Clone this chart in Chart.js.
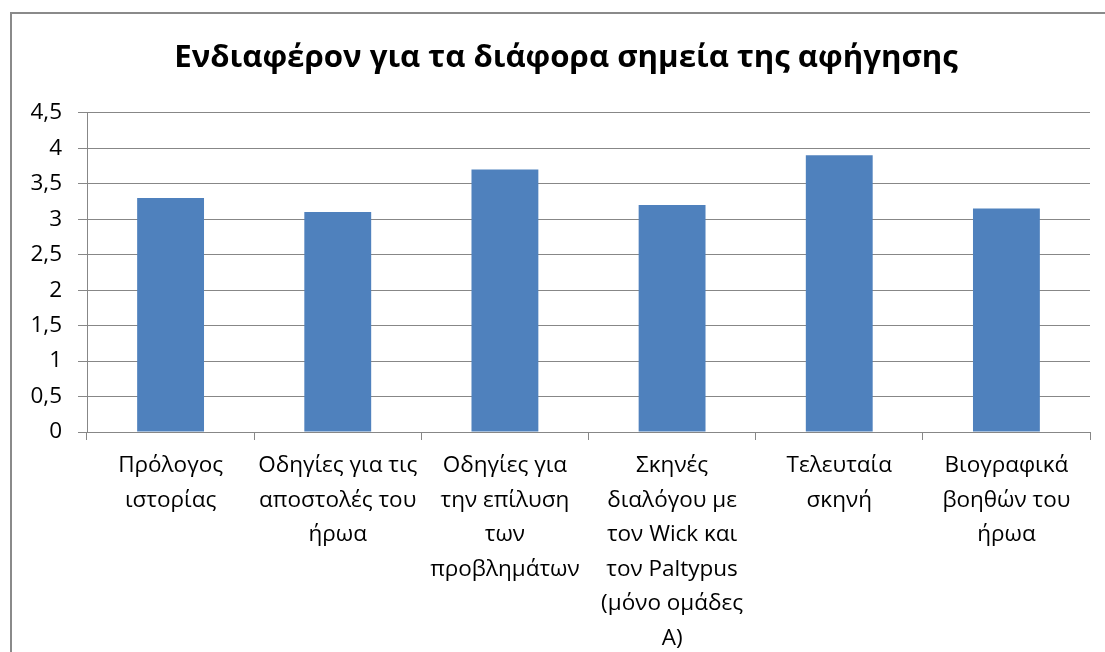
<!DOCTYPE html>
<html>
<head>
<meta charset="utf-8">
<script src="https://cdn.jsdelivr.net/npm/chart.js@4/dist/chart.umd.min.js"></script>
<style>
  html, body { margin: 0; padding: 0; background: #ffffff; overflow: hidden; }
  #frame {
    position: absolute; left: 10px; top: 12px;
    width: 2000px; height: 2000px;
    border: 2px solid #8a8a8a;
  }
  #chart { position: absolute; left: 0; top: 0; }
</style>
</head>
<body>
<div id="frame"></div>
<canvas id="chart" width="1105" height="652"></canvas>
<script>
// Chart title
const chartTitle = 'Ενδιαφέρον για τα διάφορα σημεία της αφήγησης';

// Section of the narration (each entry is split into its display lines)
const categories = [
  ['Πρόλογος', 'ιστορίας'],
  ['Οδηγίες για τις', 'αποστολές του', 'ήρωα'],
  ['Οδηγίες για', 'την επίλυση', 'των', 'προβλημάτων'],
  ['Σκηνές', 'διαλόγου με', 'τον Wick και', 'τον Paltypus', '(μόνο ομάδες', 'Α)'],
  ['Τελευταία', 'σκηνή'],
  ['Βιογραφικά', 'βοηθών του', 'ήρωα']
];

// Mean interest score per section
const interestValues = [3.3, 3.1, 3.7, 3.2, 3.9, 3.15];

// Value axis range and step
const yMin = 0;
const yMax = 4.5;
const yStep = 0.5;

const labelSize = 22.5;
const labelFont = { family: "'Open Sans', 'DejaVu Sans', sans-serif", size: labelSize };
const gridGray = '#878787';

// The frame is wider than the visible window; centre the title on the frame
const titleShift = {
  id: 'titleShift',
  afterLayout(chart) {
    const t = chart.titleBlock;
    if (t) { t.left += 21; t.right += 21; }
  }
};

new Chart(document.getElementById('chart'), {
  type: 'bar',
  data: {
    labels: categories,
    datasets: [{
      data: interestValues,
      backgroundColor: '#4F81BD',
      borderWidth: 0,
      barPercentage: 0.4,
      categoryPercentage: 1.0
    }]
  },
  options: {
    responsive: false,
    animation: false,
    devicePixelRatio: 1,
    layout: { padding: { left: 0, right: 15, top: 0, bottom: 0 } },
    plugins: {
      legend: { display: false },
      tooltip: { enabled: false },
      title: {
        display: true,
        text: chartTitle,
        color: '#000000',
        font: { family: "'Open Sans', 'DejaVu Sans', sans-serif", size: 31.2, weight: 'bold', lineHeight: 1.2 },
        padding: { top: 39.5, bottom: 35.8 }
      }
    },
    scales: {
      x: {
        offset: true,
        border: { display: true, color: gridGray, width: 1 },
        grid: {
          offset: true,
          drawOnChartArea: false,
          drawTicks: true,
          tickLength: 8,
          color: gridGray
        },
        ticks: {
          color: '#000000',
          font: Object.assign({}, labelFont, { lineHeight: 34.5 / labelSize }),
          padding: 8.5,
          autoSkip: false,
          maxRotation: 0,
          minRotation: 0
        },
        afterFit(scale) { scale.height = 220; }
      },
      y: {
        min: yMin,
        max: yMax,
        border: { display: true, color: gridGray, width: 1 },
        grid: {
          color: gridGray,
          lineWidth: 1,
          drawTicks: true,
          tickLength: 9
        },
        ticks: {
          stepSize: yStep,
          color: '#000000',
          font: labelFont,
          padding: 16,
          callback: (v) => String(v).replace('.', ',')
        },
        afterFit(scale) { scale.width = 87; }
      }
    }
  },
  plugins: [titleShift]
});
</script>
</body>
</html>
